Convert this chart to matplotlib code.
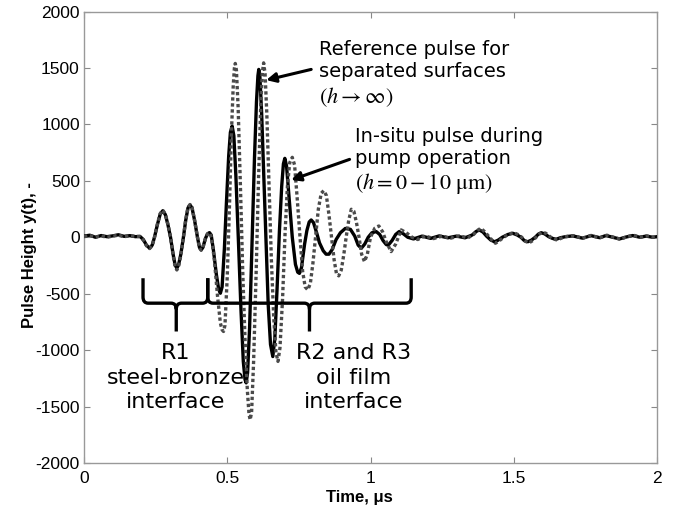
import matplotlib
matplotlib.use('Agg')
import matplotlib.pyplot as plt
from matplotlib.path import Path
from matplotlib.patches import PathPatch

plt.rcParams['font.family'] = ['Liberation Sans', 'DejaVu Sans']
plt.rcParams['mathtext.fontset'] = 'stix'
plt.rcParams['axes.unicode_minus'] = False

# in-situ pulse during pump operation (solid), time in us
t_insitu = [0.000, 0.020, 0.040, 0.060, 0.080, 0.100, 0.120, 0.140, 0.160, 0.180, 0.195,
            0.207, 0.218, 0.229, 0.238, 0.246,
            0.256, 0.266, 0.275, 0.284, 0.293, 0.302,
            0.311, 0.318, 0.324, 0.330, 0.338, 0.347,
            0.355, 0.363, 0.370, 0.377, 0.386, 0.396,
            0.403, 0.409, 0.415, 0.424, 0.431, 0.438, 0.444,
            0.452, 0.462, 0.470, 0.476, 0.482, 0.490,
            0.497, 0.505, 0.511, 0.517, 0.523, 0.530, 0.540,
            0.548, 0.556, 0.562, 0.566, 0.571, 0.578, 0.587,
            0.595, 0.602, 0.607, 0.610, 0.614, 0.620, 0.628, 0.635,
            0.643, 0.651, 0.659, 0.666, 0.674, 0.682,
            0.690, 0.696, 0.701, 0.707, 0.716, 0.727,
            0.738, 0.746, 0.752, 0.759, 0.770,
            0.778, 0.786, 0.793, 0.801, 0.812, 0.822,
            0.835, 0.845, 0.855, 0.866, 0.880,
            0.895, 0.912, 0.930, 0.945,
            0.957, 0.968, 0.980, 0.992,
            1.005, 1.020, 1.032, 1.044,
            1.055, 1.062, 1.075, 1.088, 1.100, 1.115, 1.130,
            1.150, 1.180, 1.210, 1.240, 1.270, 1.300, 1.330,
            1.355, 1.368, 1.380, 1.393, 1.405, 1.420, 1.433, 1.446, 1.460,
            1.480, 1.497, 1.512, 1.525, 1.537, 1.549, 1.562, 1.575,
            1.586, 1.596, 1.608, 1.622, 1.635, 1.648, 1.662, 1.680,
            1.706, 1.740, 1.770, 1.800, 1.822, 1.845, 1.869, 1.892, 1.915,
            1.940, 1.962, 1.985, 2.000]
y_insitu = [10, 18, 0, 15, 5, 12, 22, 8, 14, 5, 8,
            -20, -70, -97, -70, 0,
            110, 205, 235, 200, 110, 0,
            -150, -245, -274, -245, -150, 0,
            150, 260, 286, 260, 150, 0,
            -90, -112, -90, -10, 30, 41, 20,
            -120, -330, -460, -496, -440, -100,
            300, 720, 930, 985, 900, 550, -100,
            -650, -1100, -1260, -1290, -1200, -800, 0,
            700, 1200, 1430, 1487, 1420, 1100, 500, -50,
            -600, -950, -1057, -900, -450, 50,
            450, 650, 699, 630, 350, 0,
            -240, -310, -320, -270, -60,
            60, 135, 153, 130, 40, -50,
            -120, -150, -150, -110, -20,
            40, 78, 70, 10,
            -70, -97, -60, 0,
            40, 50, 25, -30,
            -65, -70, -30, 25, 50, 30, 0,
            -15, 10, -10, 12, -5, 10, -5,
            20, 50, 65, 45, 10, -25, -40, -25, 0,
            25, 35, 20, 0, -30, -40, -25, 0,
            28, 40, 30, 5, -10, -18, -5, 5,
            12, -8, 14, -4, 15, 0, -15, 2, 15,
            0, 10, 0, 5]

# reference pulse for separated surfaces (dotted)
t_ref = [0.000, 0.020, 0.040, 0.060, 0.080, 0.100, 0.120, 0.140, 0.160, 0.180, 0.195,
         0.207, 0.218, 0.229, 0.238, 0.246,
         0.256, 0.266, 0.275, 0.284, 0.293, 0.302,
         0.311, 0.318, 0.324, 0.330, 0.338, 0.347,
         0.355, 0.363, 0.370, 0.377, 0.386, 0.396,
         0.403, 0.409, 0.415, 0.424, 0.431, 0.438, 0.445,
         0.455, 0.466, 0.476, 0.482, 0.487, 0.492, 0.500,
         0.508, 0.515, 0.521, 0.525, 0.528, 0.532, 0.538, 0.546, 0.554,
         0.562, 0.570, 0.576, 0.580, 0.585, 0.592, 0.601,
         0.609, 0.616, 0.622, 0.627, 0.632, 0.638, 0.646, 0.654,
         0.662, 0.670, 0.677, 0.684, 0.693, 0.702,
         0.710, 0.718, 0.727, 0.735, 0.744, 0.754,
         0.763, 0.772, 0.781, 0.790, 0.799, 0.808,
         0.818, 0.828, 0.837, 0.846, 0.855, 0.864,
         0.873, 0.881, 0.889, 0.898, 0.907, 0.915,
         0.924, 0.933, 0.942, 0.951, 0.960,
         0.969, 0.979, 0.989, 1.000,
         1.015, 1.029, 1.042, 1.055, 1.072, 1.088,
         1.107, 1.125, 1.145, 1.165, 1.190, 1.220, 1.250, 1.280, 1.310, 1.340,
         1.360, 1.373, 1.385, 1.398, 1.410, 1.424, 1.436, 1.450, 1.465,
         1.484, 1.500, 1.514, 1.528, 1.540, 1.553, 1.566, 1.578,
         1.590, 1.600, 1.612, 1.625, 1.638, 1.652, 1.666, 1.680,
         1.710, 1.740, 1.770, 1.800, 1.825, 1.848, 1.872, 1.895,
         1.918, 1.942, 1.965, 1.985, 2.000]
y_ref = [5, 15, 2, 12, 0, 10, 18, 5, 12, 8, 5,
         -25, -75, -100, -75, 0,
         115, 210, 240, 205, 115, 0,
         -160, -260, -290, -260, -160, 0,
         155, 265, 290, 265, 150, 0,
         -95, -115, -90, -10, 30, 40, 0,
         -200, -520, -760, -820, -835, -780, -350,
         300, 950, 1350, 1500, 1540, 1480, 1150, 450, -300,
         -900, -1350, -1570, -1617, -1550, -1100, -300,
         500, 1100, 1450, 1545, 1450, 1100, 450, -200,
         -700, -1020, -1100, -980, -550, 50,
         450, 660, 708, 640, 350, 0,
         -300, -440, -466, -410, -230, 0,
         250, 390, 413, 370, 200, 0,
         -200, -320, -342, -290, -150, 0,
         150, 248, 230, 130, 0,
         -150, -216, -150, 0,
         80, 100, 50, -40, -127, -60,
         65, 40, 0, -20, 12, -12, 10, -8, 12, -5,
         25, 60, 80, 50, 15, -25, -53, -30, 0,
         30, 40, 25, 0, -35, -50, -30, 0,
         30, 45, 35, 8, -15, -25, -8, 5,
         14, -10, 16, -6, 18, 0, -18, 4,
         18, 0, 12, 0, 5]

# brace annotations: left end, tip, right end (us) and label text
brace_x = [(0.206, 0.322, 0.432), (0.432, 0.787, 1.142)]
brace_labels = ['R1\nsteel-bronze\ninterface', 'R2 and R3\noil film\ninterface']
label_x = [0.320, 0.941]

fig = plt.figure(figsize=(6.89, 5.14), dpi=100)
ax = fig.add_axes([84 / 689, 1 - 463 / 514, 573 / 689, 451.5 / 514])

ax.plot(t_insitu, y_insitu, color='black', lw=2.4, solid_joinstyle='round', zorder=3)
ax.plot(t_ref, y_ref, color='#4a4a4a', lw=2.4, linestyle=(0, (1, 0.8)), zorder=4)

ax.set_xlim(0, 2)
ax.set_ylim(-2000, 2000)
ax.set_xticks([0, 0.5, 1, 1.5, 2])
ax.set_xticklabels(['0', '0.5', '1', '1.5', '2'])
ax.set_yticks(range(-2000, 2001, 500))
ax.tick_params(direction='in', top=True, right=True, length=4, width=0.8,
               color='#888888', labelsize=12.5)
ax.tick_params(axis='x', pad=6)
ax.tick_params(axis='y', pad=3)
for s in ax.spines.values():
    s.set_color('#999999')
    s.set_linewidth(1.0)

ax.set_xlabel('Time, μs', fontsize=12, fontweight='bold')
ax.set_ylabel('Pulse Height y(t), -', fontsize=12, fontweight='bold')
ax.xaxis.set_label_coords(0.48, -0.06)
ax.yaxis.set_label_coords(-0.082, 0.46)

# curly braces under the pulses
ytop, ybar, ytip = -363, -584, -835
rx, ry = 0.018, 55
for xa, xm, xb in brace_x:
    verts = [(xa, ytop), (xa, ybar + ry), (xa, ybar), (xa + rx, ybar),
             (xm - rx, ybar), (xm, ybar), (xm, ybar - ry), (xm, ytip),
             (xm, ybar - ry), (xm, ybar), (xm + rx, ybar),
             (xb - rx, ybar), (xb, ybar), (xb, ybar + ry), (xb, ytop)]
    codes = [Path.MOVETO, Path.LINETO, Path.CURVE3, Path.CURVE3,
             Path.LINETO, Path.CURVE3, Path.CURVE3, Path.LINETO,
             Path.MOVETO, Path.CURVE3, Path.CURVE3,
             Path.LINETO, Path.CURVE3, Path.CURVE3, Path.LINETO]
    ax.add_patch(PathPatch(Path(verts, codes), fill=False, lw=2.4,
                           edgecolor='black', zorder=5, joinstyle='round'))

for lx, txt in zip(label_x, brace_labels):
    ax.text(lx, -1245, txt, ha='center', va='center', fontsize=16,
            family='DejaVu Sans', linespacing=1.28, zorder=6)

ax.text(0.820, 1569, 'Reference pulse for\nseparated surfaces',
        ha='left', va='center', fontsize=14, family='DejaVu Sans', linespacing=1.2)
ax.text(0.820, 1240, '$(h \\rightarrow \\infty)$', ha='left', va='center', fontsize=16)
ax.text(0.945, 795, 'In-situ pulse during\npump operation',
        ha='left', va='center', fontsize=14, family='DejaVu Sans', linespacing=1.2)
ax.text(0.945, 480, '$(h = 0 - 10\\ \\mathrm{\\mu m})$', ha='left', va='center', fontsize=16)

arrow = dict(arrowstyle='-|>', color='black', lw=2.2, mutation_scale=14,
             shrinkA=0, shrinkB=0)
ax.annotate('', xy=(0.636, 1392), xytext=(0.793, 1487), arrowprops=arrow, zorder=7)
ax.annotate('', xy=(0.723, 507), xytext=(0.927, 690), arrowprops=arrow, zorder=7)

fig.savefig('out.png', dpi=100)
